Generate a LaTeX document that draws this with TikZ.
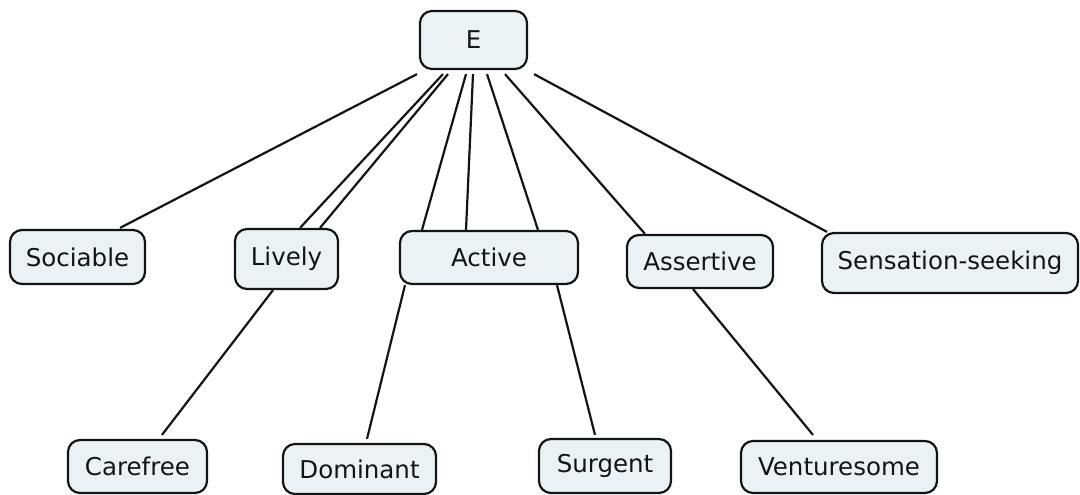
\documentclass[tikz,border=0pt]{standalone}
\usepackage{fontspec}
\setmainfont{DejaVu Sans}
\definecolor{boxfill}{RGB}{235,242,245}
\definecolor{ink}{RGB}{20,20,20}
\begin{document}
\begin{tikzpicture}[x=1pt,y=-1pt,
  concept/.style={draw=ink, line width=2.2pt, rounded corners=12pt, fill=boxfill,
    inner sep=0pt, align=center, font=\fontsize{24.5}{28}\selectfont, text=ink},
  link/.style={draw=ink, line width=2.2pt}]
  \fill[white] (0,0) rectangle (1080,495);
  \useasboundingbox (0,0) rectangle (1080,495);

  % concepts
  \node[concept, minimum width=107pt, minimum height=58pt] (E)   at (473.5,40)  {E};
  \node[concept, minimum width=135pt, minimum height=54pt] (soc) at (77.5,257)  {Sociable};
  \node[concept, minimum width=103pt, minimum height=60pt] (liv) at (286.5,259) {Lively};
  \node[concept, minimum width=178pt, minimum height=53pt] (act) at (489,257.5) {Active};
  \node[concept, minimum width=146pt, minimum height=53pt] (ass) at (700,261.5) {Assertive};
  \node[concept, minimum width=256pt, minimum height=60pt] (sen) at (950,263)   {Sensation-seeking};
  \node[concept, minimum width=139pt, minimum height=53pt] (car) at (137.5,466.5) {Carefree};
  \node[concept, minimum width=153pt, minimum height=50pt] (dom) at (359.5,469) {Dominant};
  \node[concept, minimum width=132pt, minimum height=54pt] (sur) at (605,466)   {Surgent};
  \node[concept, minimum width=196pt, minimum height=52pt] (ven) at (839,467)   {Venturesome};

  % links from E
  \draw[link] ([shift={(-56.5,4)}]E.south) -- ([shift={(42.5,-1)}]soc.north);
  \draw[link] ([shift={(-30.5,4)}]E.south) -- ([shift={(13.5,0)}]liv.north);
  \draw[link] ([shift={(-25.5,4)}]E.south) -- ([shift={(33.5,0)}]liv.north);
  \draw[link] ([shift={(-7.5,4)}]E.south)  -- ([shift={(-67,0)}]act.north);
  \draw[link] ([shift={(-0.5,4)}]E.south)  -- ([shift={(-23,0)}]act.north);
  \draw[link] ([shift={(13.5,4)}]E.south)  -- ([shift={(49,0)}]act.north);
  \draw[link] ([shift={(31.5,4)}]E.south)  -- ([shift={(-55,0)}]ass.north);
  \draw[link] ([shift={(60.5,4)}]E.south)  -- ([shift={(-123,0)}]sen.north);

  % second-level links
  \draw[link] ([shift={(-13.5,0)}]liv.south) -- ([shift={(24.5,-4)}]car.north);
  \draw[link] ([shift={(-84,0)}]act.south)   -- ([shift={(7.5,-4)}]dom.north);
  \draw[link] ([shift={(68,0)}]act.south)    -- ([shift={(-10,-3)}]sur.north);
  \draw[link] ([shift={(-7,0)}]ass.south)    -- ([shift={(-26,-5)}]ven.north);
\end{tikzpicture}
\end{document}
